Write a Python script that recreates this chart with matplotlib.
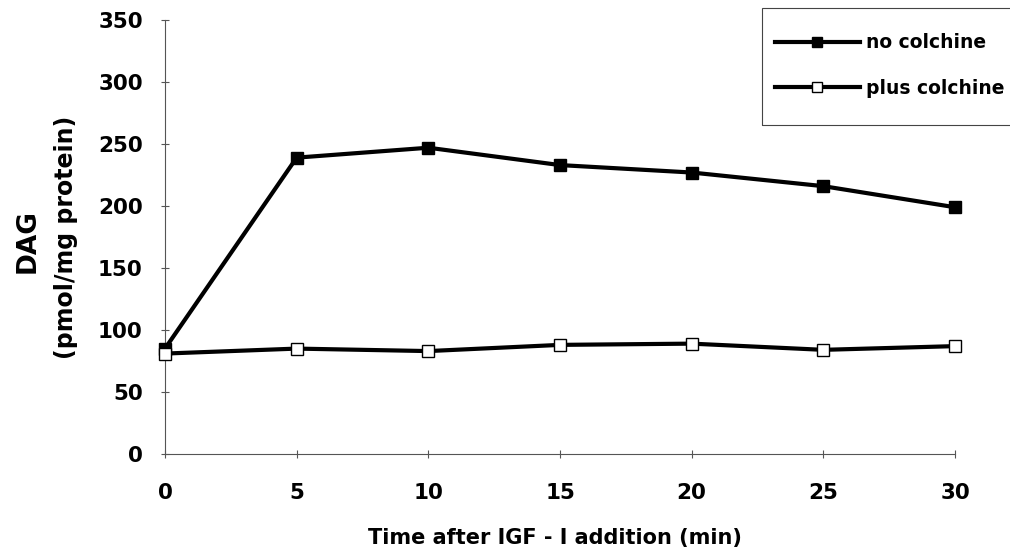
import matplotlib
matplotlib.use("Agg")
import matplotlib.pyplot as plt
from matplotlib.patches import Rectangle

time_min = [0, 5, 10, 15, 20, 25, 30]
no_colchine = [85, 239, 247, 233, 227, 216, 199]
plus_colchine = [81, 85, 83, 88, 89, 84, 87]
x_ticks = [0, 5, 10, 15, 20, 25, 30]
y_ticks = [0, 50, 100, 150, 200, 250, 300, 350]

plt.rcParams['font.family'] = ['DejaVu Sans']
plt.rcParams['font.weight'] = 'bold'

W, H = 1010, 552
fig = plt.figure(figsize=(W / 100, H / 100), dpi=100)
ax = fig.add_axes([165 / W, 1 - 454 / H, 790 / W, 434 / H])

ax.plot(time_min, no_colchine, color='black', lw=3, marker='s', ms=9,
        mfc='black', mec='black', label='no colchine', clip_on=False, zorder=3)
ax.plot(time_min, plus_colchine, color='black', lw=3, marker='s', ms=9,
        mfc='white', mec='black', mew=1, label='plus colchine', clip_on=False, zorder=4)

ax.set_xlim(0, 30)
ax.set_ylim(0, 350)
ax.set_xticks(x_ticks)
ax.set_yticks(y_ticks)
for s in ['top', 'right']:
    ax.spines[s].set_visible(False)
for s in ['left', 'bottom']:
    ax.spines[s].set_color('#555555')
    ax.spines[s].set_linewidth(0.8)
ax.tick_params(direction='inout', length=6, width=0.8, color='#555555',
               labelsize=15.5)
ax.tick_params(axis='y', pad=13)
ax.tick_params(axis='x', pad=18)
for lab in ax.get_xticklabels() + ax.get_yticklabels():
    lab.set_fontweight('bold')

fig.text(555 / W, 1 - 538 / H, 'Time after IGF - I addition (min)', ha='center', va='center',
         fontsize=15, fontweight='bold')
fig.text(28 / W, 1 - 241 / H, 'DAG', rotation=90, ha='center', va='center',
         fontsize=19, fontweight='bold')
fig.text(65.5 / W, 1 - 237 / H, '(pmol/mg protein)', rotation=90, ha='center', va='center',
         fontsize=17, fontweight='bold')

# legend box (drawn separately so its padding can follow the reference)
fig.patches.append(Rectangle((762 / W, 1 - 125 / H), 260 / W, 117 / H,
                             transform=fig.transFigure, fill=False,
                             edgecolor='#444444', linewidth=0.8))
leg = fig.legend(loc='upper left', bbox_to_anchor=(762 / W, 1 - 20 / H),
                 frameon=False, fontsize=13.5,
                 handlelength=4.5, labelspacing=1.42, borderpad=0.7,
                 handletextpad=0.35, borderaxespad=0.0, markerscale=0.85)
for t in leg.get_texts():
    t.set_fontweight('bold')

fig.savefig('out.png', dpi=100)
